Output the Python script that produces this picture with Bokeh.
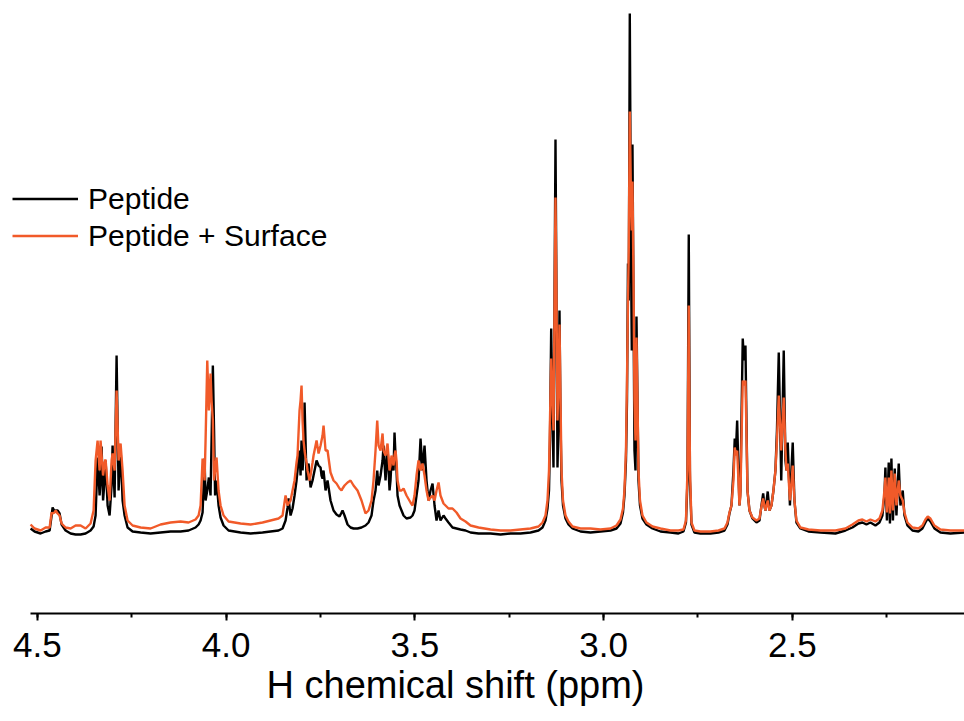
from bokeh.plotting import figure
from bokeh.models import Range1d, SingleIntervalTicker, Legend, PrintfTickFormatter, Title
from bokeh.embed import file_html
from bokeh.resources import INLINE

# Chemical shift (ppm), shared acquisition grid
ppm = [4.5178, 4.5072, 4.4913, 4.4780, 4.4674, 4.4621, 4.4595, 4.4542, 4.4515, 4.4462,
       4.4410, 4.4357, 4.4251, 4.4118, 4.3986, 4.3853, 4.3721, 4.3589, 4.3509, 4.3456,
       4.3403, 4.3350, 4.3324, 4.3297, 4.3258, 4.3218, 4.3191, 4.3138, 4.3085, 4.3032,
       4.3006, 4.2953, 4.2900, 4.2847, 4.2794, 4.2741, 4.2688, 4.2609, 4.2476, 4.2264,
       4.2000, 4.1735, 4.1470, 4.1205, 4.0993, 4.0808, 4.0728, 4.0675, 4.0622, 4.0569,
       4.0543, 4.0498, 4.0456, 4.0411, 4.0384, 4.0350, 4.0318, 4.0291, 4.0252, 4.0199,
       4.0146, 4.0066, 3.9934, 3.9616, 3.9351, 3.9033, 3.8822, 3.8610, 3.8504, 3.8424,
       3.8371, 3.8345, 3.8292, 3.8239, 3.8186, 3.8133, 3.8107, 3.8054, 3.8027, 3.8001,
       3.7974, 3.7948, 3.7921, 3.7895, 3.7868, 3.7842, 3.7815, 3.7789, 3.7762, 3.7709,
       3.7683, 3.7656, 3.7603, 3.7550, 3.7497, 3.7471, 3.7444, 3.7418, 3.7365, 3.7312,
       3.7233, 3.7153, 3.7074, 3.6994, 3.6941, 3.6915, 3.6862, 3.6782, 3.6703, 3.6623,
       3.6518, 3.6412, 3.6306, 3.6226, 3.6147, 3.6094, 3.6041, 3.5996, 3.5961, 3.5908,
       3.5855, 3.5829, 3.5776, 3.5723, 3.5670, 3.5644, 3.5617, 3.5564, 3.5538, 3.5511,
       3.5485, 3.5458, 3.5405, 3.5352, 3.5299, 3.5220, 3.5114, 3.5061, 3.5008, 3.4955,
       3.4902, 3.4849, 3.4796, 3.4743, 3.4690, 3.4637, 3.4584, 3.4531, 3.4478, 3.4425,
       3.4372, 3.4320, 3.4240, 3.4187, 3.4108, 3.4002, 3.3896, 3.3790, 3.3657, 3.3525,
       3.3313, 3.2995, 3.2730, 3.2466, 3.2201, 3.1936, 3.1724, 3.1618, 3.1539, 3.1486,
       3.1446, 3.1420, 3.1388, 3.1353, 3.1327, 3.1300, 3.1274, 3.1247, 3.1221, 3.1194,
       3.1168, 3.1141, 3.1115, 3.1075, 3.1009, 3.0930, 3.0824, 3.0612, 3.0347, 3.0082,
       2.9817, 2.9658, 2.9552, 2.9486, 2.9447, 2.9407, 2.9380, 2.9354, 2.9333, 2.9306,
       2.9274, 2.9253, 2.9235, 2.9208, 2.9182, 2.9155, 2.9129, 2.9102, 2.9076, 2.9036,
       2.8970, 2.8864, 2.8705, 2.8493, 2.8228, 2.8017, 2.7884, 2.7818, 2.7778, 2.7744,
       2.7712, 2.7672, 2.7593, 2.7434, 2.7169, 2.6957, 2.6798, 2.6719, 2.6666, 2.6613,
       2.6560, 2.6526, 2.6494, 2.6462, 2.6428, 2.6401, 2.6375, 2.6348, 2.6314, 2.6282,
       2.6242, 2.6216, 2.6189, 2.6136, 2.6057, 2.5951, 2.5871, 2.5818, 2.5773, 2.5739,
       2.5712, 2.5652, 2.5607, 2.5554, 2.5501, 2.5448, 2.5408, 2.5360, 2.5294, 2.5228,
       2.5183, 2.5156, 2.5122, 2.5064, 2.5037, 2.4990, 2.4945, 2.4892, 2.4786, 2.4574,
       2.4256, 2.3859, 2.3594, 2.3409, 2.3250, 2.3144, 2.3038, 2.2932, 2.2799, 2.2693,
       2.2614, 2.2561, 2.2535, 2.2495, 2.2447, 2.2415, 2.2376, 2.2336, 2.2288, 2.2243,
       2.2182, 2.2137, 2.2076, 2.2031, 2.1952, 2.1819, 2.1661, 2.1555, 2.1475, 2.1414,
       2.1343, 2.1237, 2.1078, 2.0813, 2.0442]

# Intensity (a.u.) - Peptide
peptide = [4, 1, -1, 1, 2, 17, 25, 21, 22, 22,
           19, 8, 2, -1, -2, -2, -1, 2, 6, 17,
           75, 37, 52, 86, 32, 52, 72, 27, 17, 47,
           87, 35, 177, 42, 84, 32, 17, 5, 1, 0,
           -1, 0, 1, 1, 2, 5, 8, 12, 20, 74,
           32, 42, 55, 37, 92, 167, 102, 37, 52, 27,
           15, 7, 2, 0, -1, 0, 1, 2, 4, 12,
           25, 34, 17, 24, 37, 52, 62, 82, 57, 92,
           62, 77, 130, 92, 52, 62, 69, 57, 45, 52,
           57, 62, 72, 67, 65, 57, 54, 62, 42, 52,
           32, 22, 18, 16, 20, 22, 17, 8, 5, 4,
           4, 5, 7, 10, 17, 32, 42, 62, 47, 57,
           72, 87, 52, 85, 42, 52, 72, 62, 100, 77,
           62, 37, 27, 22, 17, 14, 15, 17, 22, 37,
           52, 94, 62, 87, 52, 32, 42, 49, 27, 12,
           22, 12, 17, 14, 10, 5, 4, 3, 2, 0,
           -1, -1, -2, -1, -1, 0, 2, 5, 12, 24,
           42, 92, 204, 112, 65, 232, 393, 232, 65, 112,
           222, 112, 52, 27, 14, 8, 4, 1, 0, 1,
           2, 4, 9, 20, 37, 72, 132, 269, 232, 519,
           282, 182, 388, 232, 82, 62, 216, 132, 52, 27,
           14, 8, 4, 1, 0, -1, 1, 10, 52, 298,
           52, 8, 0, -1, -1, 0, 2, 8, 19, 27,
           62, 94, 82, 112, 62, 27, 42, 112, 194, 172,
           187, 112, 42, 22, 14, 10, 12, 27, 39, 27,
           22, 41, 22, 27, 42, 62, 102, 180, 52, 182,
           72, 62, 90, 27, 52, 90, 32, 10, 4, 1,
           0, -1, 2, 5, 9, 10, 8, 10, 7, 10,
           17, 37, 65, 12, 70, 9, 74, 12, 64, 17,
           69, 27, 42, 17, 7, 2, 1, 4, 10, 14,
           11, 4, 0, -1, 0]

# Intensity (a.u.) - Peptide + Surface
peptide_surface = [8, 4, 2, 5, 5, 20, 19, 20, 22, 19,
                   17, 9, 5, 4, 7, 7, 4, 9, 22, 72,
                   92, 62, 92, 77, 57, 70, 73, 47, 32, 72,
                   79, 62, 142, 72, 89, 62, 27, 12, 7, 5,
                   4, 8, 10, 11, 10, 13, 17, 27, 74, 52,
                   92, 172, 122, 159, 132, 112, 52, 62, 75, 42,
                   27, 17, 11, 9, 8, 10, 12, 14, 17, 37,
                   27, 29, 32, 42, 52, 70, 77, 122, 132, 147,
                   112, 92, 82, 75, 70, 62, 57, 52, 57, 70,
                   77, 82, 92, 79, 87, 92, 97, 107, 82, 82,
                   60, 52, 49, 44, 42, 44, 47, 50, 52, 47,
                   42, 32, 19, 22, 32, 52, 82, 112, 87, 82,
                   99, 82, 77, 89, 62, 67, 77, 67, 77, 82,
                   72, 52, 42, 42, 44, 37, 30, 27, 37, 57,
                   72, 62, 69, 57, 42, 32, 35, 37, 32, 42,
                   50, 37, 29, 27, 24, 24, 20, 14, 11, 7,
                   5, 3, 2, 2, 3, 4, 6, 10, 17, 32,
                   62, 112, 174, 132, 102, 222, 335, 232, 112, 152,
                   208, 132, 62, 32, 17, 11, 6, 4, 4, 3,
                   4, 7, 13, 24, 42, 82, 152, 232, 282, 421,
                   332, 302, 351, 252, 132, 92, 195, 132, 62, 32,
                   17, 10, 6, 4, 2, 2, 3, 12, 62, 227,
                   62, 10, 2, 1, 1, 2, 4, 10, 20, 27,
                   52, 85, 77, 82, 52, 27, 37, 92, 152, 147,
                   152, 102, 42, 22, 15, 12, 14, 26, 34, 26,
                   22, 32, 22, 27, 42, 62, 92, 137, 82, 135,
                   82, 62, 69, 32, 42, 67, 32, 12, 5, 3,
                   2, 2, 4, 8, 12, 13, 11, 13, 11, 14,
                   22, 42, 55, 20, 55, 19, 62, 22, 59, 27,
                   52, 37, 32, 20, 10, 5, 4, 7, 13, 16,
                   14, 7, 3, 2, 2]

series_labels = ["Peptide", "Peptide + Surface"]
series_colors = ["#000000", "#F15A29"]
tick_interval = 0.5
axis_start, axis_end = 4.518, 2.044

FONT = "Liberation Sans"

p = figure(width=964, height=721, output_backend="svg", toolbar_location=None,
           x_range=Range1d(4.5975, axis_end), y_range=Range1d(-81, 532),
           y_axis_location=None,
           min_border_left=0, min_border_right=0, min_border_top=0, min_border_bottom=108)

p.outline_line_color = None
p.xgrid.visible = False
p.ygrid.visible = False
p.background_fill_color = "white"
p.border_fill_color = "white"

r1 = p.line(ppm, peptide, line_color=series_colors[0], line_width=2.4)
r2 = p.line(ppm, peptide_surface, line_color=series_colors[1], line_width=2.4)

ax = p.xaxis[0]
ax.bounds = (axis_end, axis_start)
ax.ticker = SingleIntervalTicker(interval=tick_interval, num_minor_ticks=2)
ax.formatter = PrintfTickFormatter(format="%.1f")
ax.axis_line_width = 2
ax.axis_line_color = "black"
ax.major_tick_line_width = 2
ax.minor_tick_line_width = 2
ax.major_tick_in = 0
ax.major_tick_out = 7
ax.minor_tick_in = 0
ax.minor_tick_out = 4
ax.major_label_text_font = FONT
ax.major_label_text_font_size = "35px"
ax.major_label_text_color = "black"
ax.major_label_standoff = 12

p.add_layout(Title(text="H chemical shift (ppm)", align="left", offset=266,
                   text_font=FONT, text_font_size="38px", text_font_style="normal",
                   text_color="black", standoff=5), "below")

legend = Legend(items=[(series_labels[0], [r1]), (series_labels[1], [r2])],
                location=(12, 360), padding=0, margin=0, spacing=2,
                glyph_width=66, glyph_height=35, label_height=35, label_standoff=10,
                label_text_font=FONT, label_text_font_size="30px",
                label_text_color="black",
                background_fill_alpha=0, border_line_alpha=0)
p.add_layout(legend)

open("out.html", "w").write(file_html(p, INLINE))
